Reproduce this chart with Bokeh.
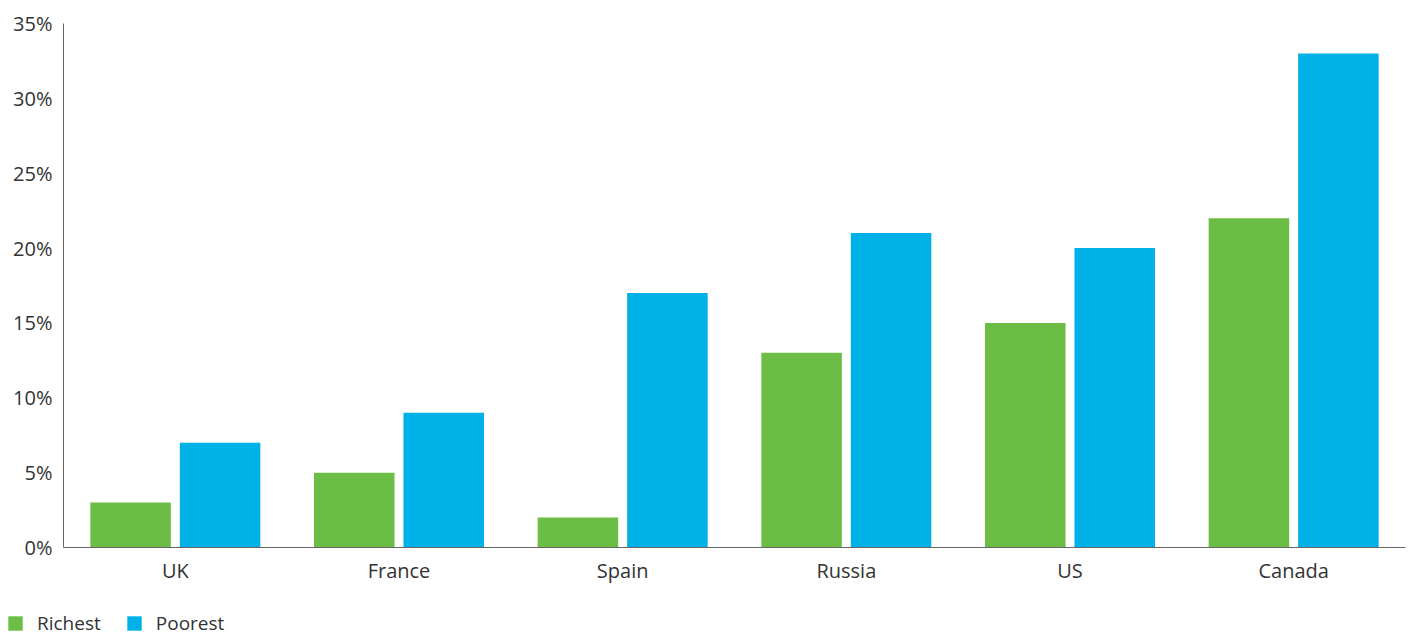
from bokeh.plotting import figure
from bokeh.layouts import column
from bokeh.models import ColumnDataSource, FactorRange, Range1d, FixedTicker, PrintfTickFormatter, Legend, LegendItem
from bokeh.transform import dodge
from bokeh.embed import file_html
from bokeh.resources import INLINE

countries = ["UK", "France", "Spain", "Russia", "US", "Canada"]
richest = [3, 5, 2, 13, 15, 22]
poorest = [7, 9, 17, 21, 20, 33]
y_ticks = [0, 5, 10, 15, 20, 25, 30, 35]
series_names = ["Richest", "Poorest"]

GREEN = "#6cbd45"
BLUE = "#00b1e8"
TEXT = "#333333"
FONT = "Open Sans"

src = ColumnDataSource(dict(country=countries, richest=richest, poorest=poorest))

p = figure(x_range=FactorRange(*countries, range_padding=0), y_range=Range1d(0, 35),
           width=1408, height=594, output_backend="svg", toolbar_location=None,
           min_border_left=63, min_border_right=3, min_border_top=23, min_border_bottom=47)
p.outline_line_color = None
p.background_fill_color = "white"
p.border_fill_color = "white"
p.frame_align = False

p.vbar(x=dodge("country", -0.2, range=p.x_range), top="richest", width=0.36, source=src,
       fill_color=GREEN, line_color=None)
p.vbar(x=dodge("country", 0.2, range=p.x_range), top="poorest", width=0.36, source=src,
       fill_color=BLUE, line_color=None)

p.xgrid.visible = False
p.ygrid.visible = False

p.yaxis.ticker = FixedTicker(ticks=y_ticks)
p.yaxis.formatter = PrintfTickFormatter(format="%d%%")
for ax in (p.xaxis[0], p.yaxis[0]):
    ax.major_tick_line_color = None
    ax.minor_tick_line_color = None
    ax.major_tick_out = 0
    ax.major_tick_in = 0
    ax.axis_line_color = "#666666"
    ax.major_label_text_font = FONT
    ax.major_label_text_font_size = "20px"
    ax.major_label_text_color = TEXT
p.yaxis.major_label_standoff = 11
p.xaxis.major_label_standoff = 9

# legend strip below the chart
p2 = figure(width=1408, height=42, output_backend="svg", toolbar_location=None,
            x_range=Range1d(0, 1), y_range=Range1d(0, 1),
            min_border_left=0, min_border_right=0, min_border_top=0, min_border_bottom=0)
p2.frame_align = False
p2.axis.visible = False
p2.grid.visible = False
p2.outline_line_color = None
p2.border_fill_color = "white"
g1 = p2.vbar(x=[-10], top=[-10], width=0.1, fill_color=GREEN, line_color=None)
g2 = p2.vbar(x=[-10], top=[-10], width=0.1, fill_color=BLUE, line_color=None)
legend = Legend(items=[LegendItem(label=series_names[0], renderers=[g1]),
                       LegendItem(label=series_names[1], renderers=[g2])],
                orientation="horizontal", location=(6, 0),
                glyph_width=18, glyph_height=18, label_height=18, label_standoff=13,
                spacing=24, padding=0, margin=0, border_line_color=None,
                background_fill_alpha=0,
                label_text_font=FONT, label_text_font_size="19px", label_text_color=TEXT)
p2.add_layout(legend, "center")

layout = column(p, p2, spacing=0)
open("out.html", "w").write(file_html(layout, INLINE))
